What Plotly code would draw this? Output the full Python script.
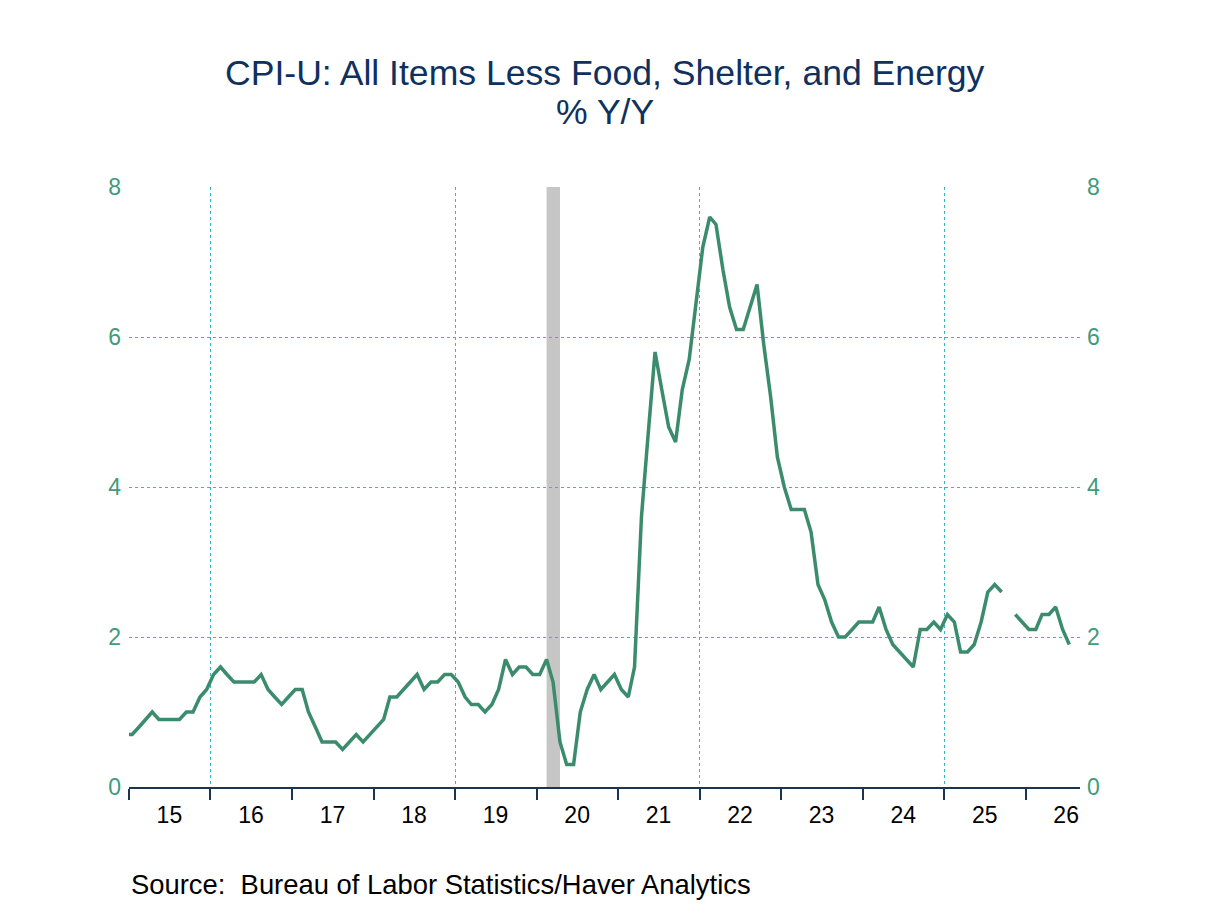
import pandas as pd
import plotly.graph_objects as go

# ---- data (% Y/Y, monthly) ----
v2014_dec = [0.7]
v2015 = [0.7, 0.8, 0.9, 1.0, 0.9, 0.9, 0.9, 0.9, 1.0, 1.0, 1.2, 1.3]
v2016 = [1.5, 1.6, 1.5, 1.4, 1.4, 1.4, 1.4, 1.5, 1.3, 1.2, 1.1, 1.2]
v2017 = [1.3, 1.3, 1.0, 0.8, 0.6, 0.6, 0.6, 0.5, 0.6, 0.7, 0.6, 0.7]
v2018 = [0.8, 0.9, 1.2, 1.2, 1.3, 1.4, 1.5, 1.3, 1.4, 1.4, 1.5, 1.5]
v2019 = [1.4, 1.2, 1.1, 1.1, 1.0, 1.1, 1.3, 1.7, 1.5, 1.6, 1.6, 1.5]
v2020 = [1.5, 1.7, 1.4, 0.6, 0.3, 0.3, 1.0, 1.3, 1.5, 1.3, 1.4, 1.5]
v2021 = [1.3, 1.2, 1.6, 3.6, 4.7, 5.8, 5.3, 4.8, 4.6, 5.3, 5.7, 6.4]
v2022 = [7.2, 7.6, 7.5, 6.9, 6.4, 6.1, 6.1, 6.4, 6.7, 5.9, 5.2, 4.4]
v2023 = [4.0, 3.7, 3.7, 3.7, 3.4, 2.7, 2.5, 2.2, 2.0, 2.0, 2.1, 2.2]
v2024 = [2.2, 2.2, 2.4, 2.1, 1.9, 1.8, 1.7, 1.6, 2.1, 2.1, 2.2, 2.1]
v2025 = [2.3, 2.2, 1.8, 1.8, 1.9, 2.2, 2.6, 2.7, 2.6, None, 2.3, 2.2]
v2026 = [2.1, 2.1, 2.3, 2.3, 2.4, 2.1, 1.9]

values = (v2014_dec + v2015 + v2016 + v2017 + v2018 + v2019 + v2020 +
          v2021 + v2022 + v2023 + v2024 + v2025 + v2026)
first_month = "2014-12-01"

year_labels = ["15", "16", "17", "18", "19", "20", "21", "22", "23", "24", "25", "26"]
grid_years = ["2016", "2019", "2022", "2025"]
recessions = [("2020-02-15", "2020-04-15")]
x_start, x_end = "2015-01-01", "2026-09-01"
y_ticks = [0, 2, 4, 6, 8]

title_line1 = "CPI-U: All Items Less Food, Shelter, and Energy"
title_line2 = "% Y/Y"
source_text = "Source:\u00a0\u00a0Bureau of Labor Statistics/Haver Analytics"

# ---- derived ----
dates = pd.date_range(first_month, periods=len(values), freq="MS") + pd.Timedelta(days=14)
label_pos = [f"20{y}-07-01" for y in year_labels]
year_starts = [f"20{y}-01-01" for y in year_labels]
grid_pos = [f"{y}-01-01" for y in grid_years]

FONT = "Liberation Sans, Arial, sans-serif"
NAVY = "#10305E"
TEAL = "#3E9B7B"
LINE = "#3A8C6D"
GRID = "#3CB4C8"
AXIS = "#1B3550"

fig = go.Figure()
for s, e in recessions:
    fig.add_vrect(x0=s, x1=e, fillcolor="#C6C6C6", opacity=1, line_width=0, layer="below")

fig.add_trace(go.Scatter(x=dates, y=values, mode="lines",
                         line=dict(color=LINE, width=3.5),
                         connectgaps=False, showlegend=False, hoverinfo="skip"))
fig.add_trace(go.Scatter(x=[], y=[], xaxis="x2", yaxis="y2",
                         mode="lines", showlegend=False, hoverinfo="skip"))

fig.update_layout(
    width=1200, height=898,
    paper_bgcolor="white", plot_bgcolor="white",
    margin=dict(l=120.5, r=128, t=179, b=119),
    font=dict(family=FONT),
    xaxis=dict(type="date", range=[x_start, x_end],
               tickmode="array", tickvals=label_pos, ticktext=year_labels,
               ticks="", showgrid=False, zeroline=False,
               showline=True, linecolor=AXIS, linewidth=1.5,
               tickfont=dict(size=23, color="black", family=FONT),
               ticklabelstandoff=7,
               minor=dict(tickmode="array", tickvals=year_starts, ticks="outside",
                          ticklen=11, tickcolor=AXIS, tickwidth=1.5, showgrid=False)),
    xaxis2=dict(type="date", range=[x_start, x_end], overlaying="x", anchor="y",
                tickmode="array", tickvals=grid_pos, showticklabels=False, ticks="",
                showgrid=True, gridcolor=GRID, griddash="dot", gridwidth=1,
                showline=False, zeroline=False),
    yaxis=dict(range=[0, 8], tickmode="array", tickvals=y_ticks,
               showgrid=True, gridcolor=GRID, griddash="dot", gridwidth=1,
               ticks="", zeroline=False, showline=False,
               tickfont=dict(size=23, color=TEAL, family=FONT),
               ticklabelstandoff=7),
    yaxis2=dict(range=[0, 8], tickmode="array", tickvals=y_ticks, overlaying="y",
                side="right", anchor="x", showgrid=False, ticks="", zeroline=False,
                showline=False, tickfont=dict(size=23, color=TEAL, family=FONT),
                ticklabelstandoff=6),
    annotations=[
        dict(text=title_line1, x=0.5, y=1.1897, xref="paper", yref="paper",
             xanchor="center", yanchor="middle", showarrow=False,
             font=dict(size=35.6, color=NAVY, family=FONT)),
        dict(text=title_line2, x=0.5, y=1.1248, xref="paper", yref="paper",
             xanchor="center", yanchor="middle", showarrow=False,
             font=dict(size=35.6, color=NAVY, family=FONT)),
        dict(text=source_text, x=0.0005, y=-0.1622, xref="paper", yref="paper",
             xanchor="left", yanchor="middle", showarrow=False,
             font=dict(size=27.4, color="black", family=FONT)),
    ],
)

fig.write_html("out.html")
